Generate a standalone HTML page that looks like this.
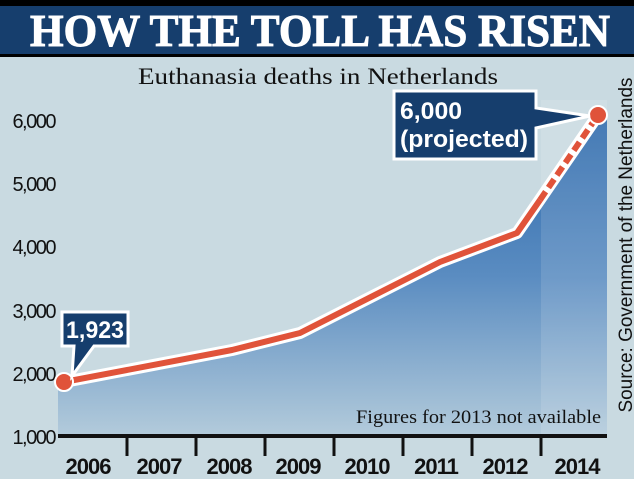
<!DOCTYPE html>
<html><head><style>
body{margin:0;width:634px;height:479px;overflow:hidden;background:#c9dae1;}
svg{display:block}
</style></head><body>
<svg width="634" height="479" xmlns="http://www.w3.org/2000/svg">
<defs>
<linearGradient id="g" x1="0" y1="0" x2="0" y2="1">
<stop offset="0" stop-color="#2b68ab"/>
<stop offset="0.5" stop-color="#5a8cc1"/>
<stop offset="1" stop-color="#b3cbdb"/>
</linearGradient>
<linearGradient id="gl" x1="0" x2="1">
<stop offset="0" stop-color="#111" stop-opacity="0"/>
<stop offset="0.1" stop-color="#111"/>
<stop offset="0.9" stop-color="#111"/>
<stop offset="1" stop-color="#111" stop-opacity="0"/>
</linearGradient>
</defs>
<rect width="634" height="479" fill="#c9dae1"/>
<rect x="0" y="0" width="634" height="6" fill="#000"/>
<rect x="0" y="6" width="634" height="48" fill="#163e6d"/>
<rect x="0" y="54" width="634" height="3" fill="#000"/>
<text x="320" y="46" text-anchor="middle" font-family="Liberation Serif,serif" font-weight="bold" font-size="46" fill="#fff" stroke="#fff" stroke-width="1" textLength="580" lengthAdjust="spacingAndGlyphs">HOW THE TOLL HAS RISEN</text>
<text x="318" y="84" text-anchor="middle" font-family="Liberation Serif,serif" font-size="23" fill="#111" textLength="360" lengthAdjust="spacingAndGlyphs">Euthanasia deaths in Netherlands</text>
<polygon points="58,382 64,382 232,350 300,333 440,262 517,233 598,115 607,115 607,436 58,436" fill="url(#g)"/>
<rect x="541" y="100" width="66" height="336" fill="#fff" opacity="0.12"/>
<g stroke-width="3">
<line x1="70" y1="120" x2="390" y2="120" stroke="url(#gl)"/>
<line x1="58" y1="183" x2="607" y2="183" stroke="url(#gl)"/>
<line x1="58" y1="246" x2="607" y2="246" stroke="url(#gl)"/>
<line x1="58" y1="310" x2="607" y2="310" stroke="url(#gl)"/>
<line x1="58" y1="373" x2="607" y2="373" stroke="url(#gl)"/>
</g>
<g font-family="Liberation Sans,sans-serif" font-size="20" fill="#111" text-anchor="end" letter-spacing="-1.5">
<text x="55" y="128">6,000</text><text x="55" y="191">5,000</text><text x="55" y="254">4,000</text>
<text x="55" y="318">3,000</text><text x="55" y="381">2,000</text><text x="55" y="444">1,000</text>
</g>
<rect x="58" y="434" width="549" height="4" fill="#111"/>
<g stroke="#111" stroke-width="3">
<line x1="127" y1="436" x2="127" y2="456"/><line x1="196" y1="436" x2="196" y2="456"/><line x1="265" y1="436" x2="265" y2="456"/>
<line x1="334" y1="436" x2="334" y2="456"/><line x1="403" y1="436" x2="403" y2="456"/><line x1="472" y1="436" x2="472" y2="456"/><line x1="541" y1="436" x2="541" y2="456"/>
</g>
<g font-family="Liberation Sans,sans-serif" font-weight="bold" font-size="22" fill="#111" text-anchor="middle" letter-spacing="-1">
<text x="88" y="474">2006</text><text x="159" y="474">2007</text><text x="229" y="474">2008</text><text x="298" y="474">2009</text>
<text x="367" y="474">2010</text><text x="436" y="474">2011</text><text x="505" y="474">2012</text><text x="577" y="474">2014</text>
</g>
<text x="601" y="423" text-anchor="end" font-family="Liberation Serif,serif" font-size="19" fill="#111" textLength="245" lengthAdjust="spacingAndGlyphs">Figures for 2013 not available</text>
<text transform="translate(632,245) rotate(-90)" text-anchor="middle" font-family="Liberation Sans,sans-serif" font-size="19" fill="#111" textLength="335" lengthAdjust="spacingAndGlyphs">Source: Government of the Netherlands</text>
<polyline points="64,382 232,350 300,333 440,262 517,233 598,115" fill="none" stroke="#fff" stroke-width="12" stroke-linejoin="round"/>
<polyline points="64,382 232,350 300,333 440,262 517,233 540,200" fill="none" stroke="#e0533a" stroke-width="6" stroke-linejoin="round"/>
<line x1="540" y1="200" x2="598" y2="115" stroke="#e0533a" stroke-width="6" stroke-dasharray="10,5"/>
<circle cx="64" cy="382" r="9" fill="#e0533a" stroke="#fff" stroke-width="2"/>
<circle cx="598" cy="115" r="9" fill="#e0533a" stroke="#fff" stroke-width="2"/>
<polygon points="394,91 536,91 536,108 590,116 536,128 536,159 394,159" fill="#163e6d" stroke="#fff" stroke-width="3"/>
<text x="400" y="119" font-family="Liberation Sans,sans-serif" font-weight="bold" font-size="24" fill="#fff" textLength="62" lengthAdjust="spacingAndGlyphs">6,000</text>
<text x="400" y="147" font-family="Liberation Sans,sans-serif" font-weight="bold" font-size="24" fill="#fff" textLength="128" lengthAdjust="spacingAndGlyphs">(projected)</text>
<polygon points="62,312 128,312 128,346 94,346 72,376 74,346 62,346" fill="#163e6d" stroke="#fff" stroke-width="3"/>
<text x="95" y="338" text-anchor="middle" font-family="Liberation Sans,sans-serif" font-weight="bold" font-size="24" fill="#fff" textLength="58" lengthAdjust="spacingAndGlyphs">1,923</text>
</svg>
</body></html>
